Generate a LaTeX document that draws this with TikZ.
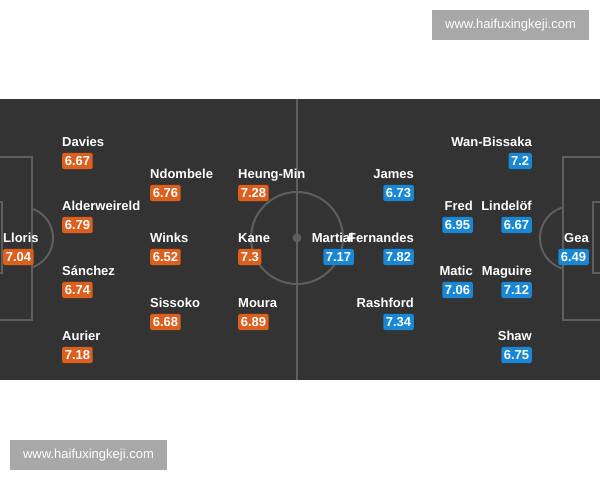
\documentclass[tikz,border=0pt]{standalone}
\usepackage{fontspec}
\setmainfont{Liberation Sans}
\definecolor{pitchgrey}{HTML}{333333}
\definecolor{linegrey}{HTML}{5E5E5E}
\definecolor{spursorange}{HTML}{DD5F1E}
\definecolor{unitedblue}{HTML}{1787D6}
\definecolor{markgrey}{HTML}{A8A8A8}
\tikzset{
  player/.style={text=white,font=\bfseries\fontsize{13}{13}\selectfont,inner sep=0pt,text height=9.3pt,text depth=0pt},
  rating/.style={player,rounded corners=2pt,inner xsep=2.6pt,inner ysep=3.4pt},
  homerate/.style={rating,fill=spursorange},
  awayrate/.style={rating,fill=unitedblue},
  pitchline/.style={linegrey,line width=2pt},
  watermark/.style={fill=markgrey,text=white,font=\fontsize{13}{13}\selectfont,minimum width=157pt,minimum height=30pt,inner sep=0pt}
}

\begin{document}
\begin{tikzpicture}[line cap=butt,line join=miter,x=1pt,y=-1pt]
    \useasboundingbox (0,0) rectangle (600,480);
    \fill[white] (0,0) rectangle (600,480);

    % Pitch
    \fill[pitchgrey] (0,99) rectangle (600,380);
    \draw[pitchline] (297,99) -- (297,380);
    \draw[pitchline] (297,238) circle (46pt);
    \fill[linegrey] (297,238) circle (4.5pt);
    \draw[pitchline] (-2,157) -- (32,157) -- (32,320) -- (-2,320);
    \draw[pitchline] (-2,202) -- (2,202) -- (2,273) -- (-2,273);
    \draw[pitchline] (602,157) -- (563,157) -- (563,320) -- (602,320);
    \draw[pitchline] (602,202) -- (593,202) -- (593,273) -- (602,273);
    \begin{scope}
        \clip (32,99) rectangle (297,380);
        \draw[pitchline] (22,238) circle (31pt);
    \end{scope}
    \begin{scope}
        \clip (297,99) rectangle (563,380);
        \draw[pitchline] (572,238) circle (32pt);
    \end{scope}

    % Home side (names left aligned)
    \foreach \pid/\pname/\px/\py/\prate in {lloris/Lloris/3/238/7.04, davies/Davies/62/142/6.67,
        alderweireld/Alderweireld/62/206/6.79, sanchez/Sánchez/62/271/6.74, aurier/Aurier/62/336/7.18,
        ndombele/Ndombele/150/174/6.76, winks/Winks/150/238/6.52, sissoko/Sissoko/150/303/6.68,
        heungmin/Heung-Min/238/174/7.28, kane/Kane/238/238/7.3, moura/Moura/238/303/6.89} {
            \node[player,anchor=west] (\pid) at (\px,\py) {\pname};
            \node[homerate,anchor=west] (\pid-r) at (\px,\py+19) {\prate};
        }

    % Away side (names right aligned)
    \foreach \pid/\pname/\px/\py/\prate in {gea/Gea/589/238/6.49, wanbissaka/Wan-Bissaka/532/142/7.2,
        lindelof/Lindelöf/532/206/6.67, maguire/Maguire/532/271/7.12, shaw/Shaw/532/336/6.75,
        fred/Fred/473/206/6.95, matic/Matic/473/271/7.06, james/James/414/174/6.73,
        martial/Martial/354/238/7.17, fernandes/Fernandes/414/238/7.82, rashford/Rashford/414/303/7.34} {
            \node[player,anchor=east] (\pid) at (\px,\py) {\pname};
            \node[awayrate,anchor=east] (\pid-r) at (\px,\py+19) {\prate};
        }

    % Watermarks
    \node[watermark] (mark1) at (510.5,25) {www.haifuxingkeji.com};
    \node[watermark] (mark2) at (88.5,455) {www.haifuxingkeji.com};
\end{tikzpicture}
\end{document}
